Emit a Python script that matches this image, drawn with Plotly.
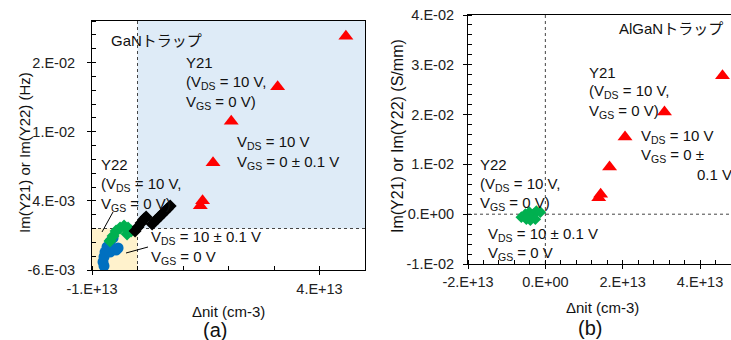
import plotly.graph_objects as go

W, H = 731, 340
FONT = "Liberation Sans, Arial, Noto Sans CJK JP, sans-serif"

# ---------------- data ----------------
# Y21 (red triangles), same values shown in both panels
y21_x = [4.58e13, 3.08e13, 2.06e13, 1.66e13, 1.43e13, 1.38e13]
y21_y = [0.0278, 0.0205, 0.0155, 0.0095, 0.0040, 0.0033]

# Panel (a): Y22, VDS = 10 V, VGS = 0 V (green diamonds)
a_green_x = [-0.604e13, -0.537e13, -0.471e13, -0.383e13, -0.295e13, -0.207e13, -0.141e13, -0.229e13]
a_green_y = [-0.00181, -0.00108, -0.00036, 0.00007, 0.00036, 0.00007, -0.00036, -0.00080]

# Panel (a): VDS = 10 +/- 0.1 V, VGS = 0 V (blue circles)
a_blue_x = [-0.537e13, -0.604e13, -0.670e13, -0.714e13, -0.736e13, -0.758e13, -0.736e13, -0.604e13, -0.471e13, -0.427e13]
a_blue_y = [-0.00137, -0.00195, -0.00267, -0.00340, -0.00412, -0.00484, -0.00542, -0.00340, -0.00311, -0.00282]

# Panel (a): VDS = 10 V, VGS = 0 +/- 0.1 V (black diamonds)
a_black_x = [-0.053e13, 0.013e13, 0.079e13, 0.145e13, 0.189e13,
             0.322e13, 0.388e13, 0.454e13, 0.520e13, 0.586e13, 0.652e13, 0.718e13]
a_black_y = [-0.00036, 0.00022, 0.00079, 0.00137, 0.00166,
             0.00065, 0.00108, 0.00152, 0.00195, 0.00239, 0.00282, 0.00325]

# Panel (b): Y22 (green diamonds)
b_green_x = [-0.621e13, -0.517e13, -0.414e13, -0.310e13, -0.233e13, -0.129e13, -0.259e13, -0.388e13, -0.491e13]
b_green_y = [-0.0006, 0.0000, 0.0004, 0.0000, 0.0006, 0.0004, -0.0010, -0.0012, -0.0010]

# axis ranges and tick labels
a_xrange = [-1e13, 5e13]
a_yrange = [-0.006, 0.030]
b_xrange = [-2e13, 4.80e13]
b_yrange = [-0.01, 0.04]

a_xtickvals = [-1e13, 4e13]
a_xticktext = ["-1.E+13", "4.E+13"]
a_ytickvals = [-0.006, 0.004, 0.014, 0.024]
a_yticktext = ["-6.E-03", "4.E-03", "1.E-02", "2.E-02"]
b_xtickvals = [-2e13, 0, 2e13, 4e13]
b_xticktext = ["-2.E+13", "0.E+00", "2.E+13", "4.E+13"]
b_ytickvals = [-0.01, 0.0, 0.01, 0.02, 0.03, 0.04]
b_yticktext = ["-1.E-02", "0.E+00", "1.E-02", "2.E-02", "3.E-02", "4.E-02"]

RED = "#FF0000"
GREEN = "#00B050"
BLUE = "#0070C0"
BLACK = "#000000"

fig = go.Figure()

# panel (a)
fig.add_trace(go.Scatter(x=a_blue_x, y=a_blue_y, mode="markers", xaxis="x", yaxis="y",
                         marker=dict(symbol="circle", size=11, color=BLUE)))
fig.add_trace(go.Scatter(x=a_green_x, y=a_green_y, mode="markers", xaxis="x", yaxis="y",
                         marker=dict(symbol="diamond", size=10, color=GREEN)))
fig.add_trace(go.Scatter(x=a_black_x, y=a_black_y, mode="markers", xaxis="x", yaxis="y",
                         marker=dict(symbol="diamond", size=10, color=BLACK)))
fig.add_trace(go.Scatter(x=y21_x, y=y21_y, mode="markers", xaxis="x", yaxis="y",
                         marker=dict(symbol="triangle-up", size=13, color=RED)))
# panel (b)
fig.add_trace(go.Scatter(x=b_green_x, y=b_green_y, mode="markers", xaxis="x2", yaxis="y2",
                         marker=dict(symbol="diamond", size=9, color=GREEN)))
fig.add_trace(go.Scatter(x=y21_x, y=y21_y, mode="markers", xaxis="x2", yaxis="y2",
                         marker=dict(symbol="triangle-up", size=13, color=RED)))


def axis_style(**kw):
    d = dict(showgrid=False, zeroline=False, showline=True, linecolor="black", linewidth=1,
             ticks="outside", ticklen=4, tickcolor="black", tickmode="array",
             tickfont=dict(size=14.5, color="#222", family=FONT), automargin=False,
             minor=dict(ticks="inside", ticklen=4, tickcolor="black", tickmode="linear", showgrid=False))
    d.update(kw)
    return d


ax = axis_style(domain=[92 / W, 365 / W], range=a_xrange, tickvals=a_xtickvals, ticktext=a_xticktext,
                anchor="y", mirror=True, ticklabelstandoff=2)
ax["minor"].update(tick0=a_xrange[0], dtick=1e13)
ay = axis_style(domain=[1 - 270 / H, 1 - 21 / H], range=a_yrange, tickvals=a_ytickvals, ticktext=a_yticktext,
                anchor="x", mirror=True, ticklabelstandoff=9)
ay["minor"].update(tick0=a_yrange[0], dtick=0.002)
bx = axis_style(domain=[468 / W, 1.0], range=b_xrange, tickvals=b_xtickvals, ticktext=b_xticktext,
                anchor="y2", mirror=True, ticklabelstandoff=1)
bx["minor"].update(tick0=b_xrange[0], dtick=0.4e13)
by = axis_style(domain=[1 - 264 / H, 1 - 15 / H], range=b_yrange, tickvals=b_ytickvals, ticktext=b_yticktext,
                anchor="x2", mirror=False, ticklabelstandoff=6)
by["minor"].update(tick0=b_yrange[0], dtick=0.002)

shapes = [
    # shaded regions of panel (a)
    dict(type="rect", xref="x", yref="y", x0=0, x1=a_xrange[1], y0=0, y1=a_yrange[1],
         fillcolor="#DEEBF7", line=dict(width=0), layer="below"),
    dict(type="rect", xref="x", yref="y", x0=a_xrange[0], x1=0, y0=a_yrange[0], y1=0,
         fillcolor="#FFF2CC", line=dict(width=0), layer="below"),
    # dashed zero lines
    dict(type="line", xref="x", yref="y", x0=0, x1=0, y0=a_yrange[0], y1=a_yrange[1],
         line=dict(color="#444", width=1, dash="dot"), layer="below"),
    dict(type="line", xref="x", yref="y", x0=a_xrange[0], x1=a_xrange[1], y0=0, y1=0,
         line=dict(color="#444", width=1, dash="dot"), layer="below"),
    dict(type="line", xref="x2", yref="y2", x0=0, x1=0, y0=b_yrange[0], y1=b_yrange[1],
         line=dict(color="#444", width=1, dash="dot"), layer="below"),
    dict(type="line", xref="x2", yref="y2", x0=b_xrange[0], x1=b_xrange[1], y0=0, y1=0,
         line=dict(color="#444", width=1, dash="dot"), layer="below"),
    # leader lines in panel (a)
    dict(type="line", xref="paper", yref="paper", x0=102 / W, y0=1 - 232 / H, x1=113 / W, y1=1 - 212 / H,
         line=dict(color="black", width=1)),
    dict(type="line", xref="paper", yref="paper", x0=126 / W, y0=1 - 253 / H, x1=148 / W, y1=1 - 247 / H,
         line=dict(color="black", width=1)),
]


def ann(text, px, py, size=15, xanchor="left", angle=0):
    return dict(text=text, x=px / W, y=1 - py / H, xref="paper", yref="paper", showarrow=False,
                xanchor=xanchor, yanchor="middle", textangle=angle,
                font=dict(size=size, color="#111", family=FONT))


annotations = [
    # panel (a)
    ann("GaNトラップ", 109, 40, size=15),
    ann("Y21", 184, 62),
    ann("(V<sub>DS</sub> = 10 V,", 184, 82),
    ann("V<sub>GS</sub> = 0 V)", 184, 102),
    ann("V<sub>DS</sub> = 10 V", 235, 142),
    ann("V<sub>GS</sub> = 0 ± 0.1 V", 235, 162),
    ann("Y22", 99, 164),
    ann("(V<sub>DS</sub> = 10 V,", 99, 184),
    ann("V<sub>GS</sub> = 0 V)", 99, 204),
    ann("V<sub>DS</sub> = 10 ± 0.1 V", 149, 237),
    ann("V<sub>GS</sub> = 0 V", 149, 257),
    ann("Δnit (cm-3)", 228, 311, size=15, xanchor="center"),
    ann("(a)", 215, 330, size=20, xanchor="center"),
    ann("Im(Y21) or Im(Y22) (Hz)", 25, 153, size=15, xanchor="center", angle=-90),
    # panel (b)
    ann("AlGaNトラップ", 725, 28, size=15, xanchor="right"),
    ann("Y21", 587, 72),
    ann("(V<sub>DS</sub> = 10 V,", 587, 92),
    ann("V<sub>GS</sub> = 0 V)", 587, 112),
    ann("V<sub>DS</sub> = 10 V", 639, 136),
    ann("V<sub>GS</sub> = 0 ±", 639, 156),
    ann("0.1 V", 695, 175),
    ann("Y22", 478, 164),
    ann("(V<sub>DS</sub> = 10 V,", 478, 184),
    ann("V<sub>GS</sub> = 0 V)", 478, 203),
    ann("V<sub>DS</sub> = 10 ± 0.1 V", 486, 234),
    ann("V<sub>GS</sub> = 0 V", 486, 253),
    ann("Δnit (cm-3)", 602, 307, size=15, xanchor="center"),
    ann("(b)", 590, 328, size=20, xanchor="center"),
    ann("Im(Y21) or Im(Y22) (S/mm)", 397, 136, size=16, xanchor="center", angle=-90),
]

fig.update_layout(
    template="none",
    width=W, height=H,
    margin=dict(l=0, r=0, t=0, b=0, pad=0),
    paper_bgcolor="white", plot_bgcolor="white",
    showlegend=False,
    font=dict(family=FONT, color="#111"),
    xaxis=ax, yaxis=ay, xaxis2=bx, yaxis2=by,
    shapes=shapes, annotations=annotations,
)

fig.write_html("out.html",
               config={"displayModeBar": False},
               post_script="document.body.style.margin='0';document.body.style.padding='0';"
                           "document.body.style.overflow='hidden';")
